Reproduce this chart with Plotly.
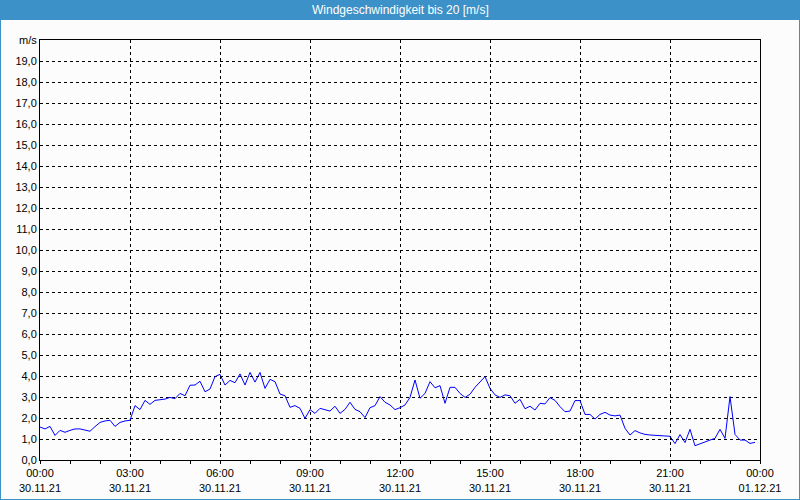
import plotly.graph_objects as go
import pandas as pd

# ---- data (10-minute values, 30.11.21 00:00 .. 23:50) ----
speed = [
    1.57, 1.48, 1.60, 1.17, 1.41, 1.32, 1.41, 1.48, 1.48, 1.44, 1.37, 1.59,
    1.79, 1.86, 1.89, 1.60, 1.79, 1.86, 1.89, 2.59, 2.40, 2.84, 2.65, 2.84,
    2.87, 2.90, 2.98, 2.92, 3.17, 3.06, 3.56, 3.57, 3.75, 3.25, 3.38, 3.97,
    4.08, 3.57, 3.79, 3.68, 4.10, 3.57, 4.17, 3.71, 4.17, 3.41, 3.84, 3.73,
    3.14, 3.06, 2.51, 2.59, 2.46, 1.98, 2.40, 2.22, 2.46, 2.40, 2.33, 2.56,
    2.22, 2.41, 2.75, 2.41, 2.30, 2.02, 2.49, 2.59, 3.02, 2.75, 2.62, 2.40,
    2.49, 2.62, 2.98, 3.81, 2.94, 3.17, 3.73, 3.44, 3.54, 2.70, 3.46, 3.46,
    3.17, 2.98, 3.13, 3.46, 3.73, 3.97, 3.41, 3.10, 2.98, 3.10, 3.06, 2.70,
    2.89, 2.44, 2.56, 2.38, 2.70, 2.67, 2.97, 2.84, 2.54, 2.30, 2.33, 2.83,
    2.83, 2.17, 2.17, 1.95, 2.17, 2.27, 2.14, 2.10, 2.14, 1.51, 1.19, 1.40,
    1.29, 1.22, 1.19, 1.17, 1.16, 1.14, 1.13, 0.78, 1.21, 0.83, 1.46, 0.68,
    0.78, 0.87, 0.95, 1.03, 1.46, 1.03, 3.02, 1.22, 0.95, 0.95, 0.79, 0.84,
]
times = pd.date_range("2021-11-30 00:00", periods=len(speed), freq="10min")

x_tick_vals = pd.date_range("2021-11-30 00:00", "2021-12-01 00:00", freq="3h")
x_tick_text = [
    "00:00<br>30.11.21", "03:00<br>30.11.21", "06:00<br>30.11.21",
    "09:00<br>30.11.21", "12:00<br>30.11.21", "15:00<br>30.11.21",
    "18:00<br>30.11.21", "21:00<br>30.11.21", "00:00<br>01.12.21",
]
y_tick_vals = list(range(0, 21))
y_tick_text = [f"{v},0" for v in range(0, 20)] + ["m/s"]
title_text = "Windgeschwindigkeit bis 20 [m/s]"

# ---- layout geometry ----
W, H = 800, 500
L, R, T, B = 40, 40, 40, 40
PW, PH = W - L - R, H - T - B


def px_x(x):
    return (x - L) / PW


def px_y(y):
    return 1 - (y - T) / PH


FONT = "Liberation Sans"
BLUE_BAR = "#3C91C8"

fig = go.Figure()
fig.add_trace(go.Scatter(
    x=times, y=speed, mode="lines",
    line=dict(color="#0000FF", width=1),
    hoverinfo="skip", showlegend=False,
))

fig.update_layout(
    width=W, height=H,
    margin=dict(l=L, r=R, t=T, b=B, autoexpand=False),
    paper_bgcolor="#FBFCFB",
    plot_bgcolor="#FBFCFB",
    font=dict(family=FONT, size=11, color="#000000"),
    xaxis=dict(
        range=[x_tick_vals[0], x_tick_vals[-1]],
        tickmode="array", tickvals=x_tick_vals, ticktext=x_tick_text,
        ticks="outside", ticklen=3, tickcolor="#000000",
        showgrid=True, gridcolor="#000000", gridwidth=1, griddash="3px,3px",
        showline=True, linecolor="#000000", linewidth=1, mirror=True,
        zeroline=False, automargin=False,
        minor=dict(dtick=3600000, ticks="outside", ticklen=3,
                   tickcolor="#000000", showgrid=False),
        tickfont=dict(family=FONT, size=11),
    ),
    yaxis=dict(
        range=[0, 20],
        tickmode="array", tickvals=y_tick_vals, ticktext=y_tick_text,
        ticks="", showgrid=True, gridcolor="#000000", gridwidth=1,
        griddash="3px,3px",
        showline=True, linecolor="#000000", linewidth=1, mirror=True,
        zeroline=False, automargin=False,
        tickfont=dict(family=FONT, size=11),
    ),
    shapes=[
        dict(type="rect", xref="paper", yref="paper",
             x0=px_x(0), x1=px_x(W), y0=px_y(20), y1=px_y(0),
             fillcolor=BLUE_BAR, line=dict(width=0), layer="above"),
        dict(type="rect", xref="paper", yref="paper",
             x0=px_x(0), x1=px_x(W), y0=px_y(H), y1=px_y(0),
             fillcolor="rgba(0,0,0,0)", line=dict(color=BLUE_BAR, width=2),
             layer="above"),
    ],
    annotations=[
        dict(text=title_text, xref="paper", yref="paper",
             x=px_x(W / 2), y=px_y(10), xanchor="center", yanchor="middle",
             showarrow=False,
             font=dict(family=FONT, size=12, color="#FFFFFF")),
    ],
)

fig.write_html("out.html")
